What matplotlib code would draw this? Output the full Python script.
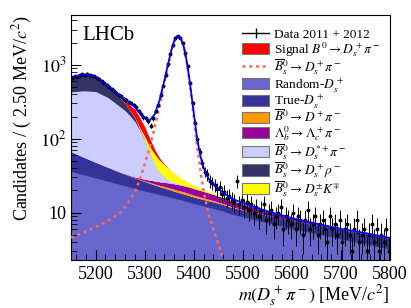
import numpy as np
import matplotlib
matplotlib.use("Agg")
import matplotlib.pyplot as plt
from matplotlib.patches import Patch
from matplotlib.lines import Line2D

plt.rcParams['font.family'] = 'serif'
plt.rcParams['font.serif'] = ['Liberation Serif', 'DejaVu Serif']
plt.rcParams['mathtext.fontset'] = 'stix'

# fit components (events per 2.5 MeV)
mass = [5150, 5175, 5200, 5225, 5250, 5260, 5270, 5280, 5290, 5300,
        5310, 5320, 5330, 5335, 5340, 5345, 5350, 5355, 5360, 5365,
        5370, 5375, 5380, 5385, 5390, 5395, 5400, 5405, 5410, 5415,
        5420, 5430, 5440, 5450, 5460, 5475, 5500, 5525, 5550, 5600,
        5650, 5700, 5750, 5800]

random_ds = [36, 32.5, 29.5, 26.5, 24, 23, 22.1, 21.2, 20.4, 19.6,
             18.9, 18.2, 17.5, 17.2, 16.9, 16.6, 16.3, 16.0, 15.7, 15.4,
             15.1, 14.8, 14.5, 14.2, 13.9, 13.6, 13.3, 13.0, 12.8, 12.5,
             12.3, 11.8, 11.4, 10.9, 10.5, 9.6, 8.8, 8.0, 7.3, 6.1,
             5.2, 4.4, 3.8, 3.2]
true_ds = [31, 24, 18.5, 14.5, 11, 10, 9, 8.2, 7.5, 6.8,
           6.2, 5.6, 5.1, 4.9, 4.7, 4.5, 4.3, 4.1, 3.9, 3.7,
           3.6, 3.5, 3.4, 3.3, 3.2, 3.1, 3.0, 2.95, 2.9, 2.85,
           2.8, 2.7, 2.6, 2.5, 2.4, 2.3, 2.1, 2.0, 1.9, 1.75,
           1.6, 1.5, 1.4, 1.3]
b0_dpi = [0, 0, 0, 0, 0, 0.05, 0.1, 0.2, 0.3, 0.5,
          0.6, 0.8, 0.9, 1.0, 1.0, 1.1, 1.1, 1.2, 1.2, 1.2,
          1.2, 1.2, 1.2, 1.2, 1.1, 1.1, 1.0, 1.0, 0.9, 0.9,
          0.8, 0.7, 0.6, 0.5, 0.4, 0.25, 0.1, 0.05, 0.02, 0,
          0, 0, 0, 0]
lb_lcpi = [0, 0, 0.1, 0.2, 0.4, 0.5, 0.7, 0.9, 1.2, 1.5,
           1.9, 2.3, 2.7, 2.9, 3.1, 3.3, 3.5, 3.6, 3.8, 3.9,
           4.0, 4.0, 4.0, 4.0, 4.0, 3.9, 3.9, 3.8, 3.7, 3.6,
           3.5, 3.3, 3.1, 2.9, 2.7, 2.4, 2.0, 1.6, 1.2, 0.6,
           0.3, 0.15, 0.1, 0.05]
bs_dsstpi = [363, 388, 387, 319, 235, 206, 173, 140, 101, 67,
             37, 18, 9, 6.5, 4.5, 3.2, 2.3, 1.7, 1.2, 0.9,
             0.7, 0.5, 0.4, 0.3, 0.25, 0.2, 0.15, 0.12, 0.1, 0.08,
             0.07, 0.05, 0.04, 0.03, 0.02, 0.02, 0.01, 0, 0, 0,
             0, 0, 0, 0]
bs_dsrho = [250, 290, 248, 149, 85, 60, 34, 21, 5, 2,
            1, 0.5, 0.3, 0.2, 0.15, 0.1, 0.08, 0.06, 0.05, 0.04,
            0.03, 0.03, 0.02, 0.02, 0.02, 0.01, 0.01, 0, 0, 0,
            0, 0, 0, 0, 0, 0, 0, 0, 0, 0,
            0, 0, 0, 0]
bs_dsk = [0, 0, 0, 0, 0.2, 0.5, 1, 2, 5, 10,
          14, 17, 16, 15, 14, 12.5, 11, 9.5, 8.2, 7,
          6, 5.2, 4.4, 3.7, 3.1, 2.6, 2.2, 1.9, 1.6, 1.35,
          1.15, 0.85, 0.6, 0.45, 0.33, 0.2, 0.08, 0.04, 0.02, 0,
          0, 0, 0, 0]
signal_b0 = [0, 0.05, 0.8, 3, 15, 28, 45, 58, 52, 38,
             22, 10, 4, 2.3, 1.2, 0.6, 0.3, 0.15, 0.08, 0.04,
             0.02, 0.01, 0, 0, 0, 0, 0, 0, 0, 0,
             0, 0, 0, 0, 0, 0, 0, 0, 0, 0,
             0, 0, 0, 0]
bs_dspi = [4.6, 5.4, 6.4, 7.8, 10, 12, 15, 19, 28, 45,
           75, 140, 270, 400, 560, 820, 1150, 1600, 2050, 2400,
           2400, 2150, 1700, 1150, 700, 380, 200, 100, 55, 32,
           20, 9.5, 6, 3.8, 2.3, 1.1, 0.35, 0.12, 0.05, 0.01,
           0.005, 0.003, 0.002, 0.001]

# data, 5 MeV steps starting at 5152.5
data_counts = [670, 705, 690, 720, 745, 730, 760, 735, 715, 700,
               670, 640, 600, 570, 540, 505, 470, 440, 415, 390,
               375, 350, 335, 310, 300, 285, 265, 240, 215, 195,
               188, 172, 150, 190, 235, 290, 385, 520, 720, 1010,
               1400, 1850, 2280, 2450, 2330, 1960, 1450, 950, 560, 305,
               165, 98, 66, 47, 36, 33, 27, 25, 24, 21,
               22, 18, 19, 16, 17, 15, 14, 27, 13, 15,
               12, 14, 11, 13, 10, 12, 9, 11, 13, 8,
               10, 11, 7, 9, 10, 12, 6, 9, 8, 7,
               10, 6, 9, 8, 5, 8, 11, 6, 7, 9,
               5, 7, 8, 6, 4, 9, 6, 7, 5, 8,
               4, 6, 7, 5, 3, 6, 8, 4, 5, 6,
               3, 5, 7, 4, 6, 3, 5, 4, 6, 3]
data_mass = np.arange(5152.5, 5800, 5.0)

stack = [
    (random_ds, '#6666cc', r'Random-$D_s^+$'),
    (true_ds, '#333399', r'True-$D_s^+$'),
    (b0_dpi, '#ff9900', r'$\overline{B}{}^0 \to D^+\pi^-$'),
    (lb_lcpi, '#990099', r'$\Lambda_b^0 \to \Lambda_c^+\pi^-$'),
    (bs_dsstpi, '#ccccff', r'$\overline{B}{}^0_s \to D_s^{*+}\pi^-$'),
    (bs_dsrho, '#333366', r'$\overline{B}{}^0_s \to D_s^+\rho^-$'),
    (bs_dsk, '#ffff00', r'$\overline{B}{}^0_s \to D_s^{\pm}K^{\mp}$'),
    (signal_b0, '#ff0000', r'Signal $B^0 \to D_s^+\pi^-$'),
]

x = np.array(mass, dtype=float)
ymin, ymax = 2.3, 4700

fig = plt.figure(figsize=(4.11, 3.08), dpi=100)
ax = fig.add_axes([0.173, 0.156, 0.776, 0.795])
ax.set_yscale('log')

lower = np.full(len(x), 1e-3)
for vals, col, lab in stack:
    upper = lower + np.array(vals, dtype=float)
    ax.fill_between(x, lower, upper, color=col, lw=0, zorder=1)
    lower = upper

total = lower + np.array(bs_dspi)
ax.plot(x, bs_dspi, color='#ff6666', ls=(0, (1.2, 1.5)), lw=1.8, zorder=3)

counts = np.array(data_counts, dtype=float)
ax.errorbar(data_mass, counts, yerr=np.sqrt(counts), fmt='o', ms=1.8,
            color='black', ecolor='black', elinewidth=0.7, capsize=0, zorder=4)
ax.plot(x, total, color='#0000ff', lw=1.3, zorder=5)

ax.set_xlim(5150, 5800)
ax.set_ylim(ymin, ymax)
ax.set_xticks([5200, 5300, 5400, 5500, 5600, 5700, 5800])
ax.set_xticks(np.arange(5160, 5800, 20), minor=True)
ax.set_yticks([10, 100, 1000])
ax.set_yticklabels(['10', '$10^{2}$', '$10^{3}$'])
ax.tick_params(axis='both', which='both', direction='in', labelsize=13,
               top=False, right=False)
ax.tick_params(axis='both', which='major', length=7, width=0.8)
ax.tick_params(axis='both', which='minor', length=4, width=0.6)
ax.tick_params(axis='x', pad=4)

ax.set_xlabel(r'$m(D_s^+\pi^-)$ [MeV/$c^2$]', fontsize=13, ha='right')
ax.xaxis.set_label_coords(1.0, -0.095)
ax.set_ylabel(r'Candidates / ( 2.50 MeV/$c^2$)', fontsize=13, loc='top', labelpad=4)

ax.text(0.035, 0.955, 'LHCb', transform=ax.transAxes, fontsize=15,
        va='top', ha='left')

handles = [
    Line2D([0], [0], color='black', lw=1, marker='|', ms=7, mew=1),
    Patch(facecolor='#ff0000', edgecolor='#777777', lw=0.8),
    Line2D([0], [0], color='#ff6666', ls=(0, (1.2, 1.5)), lw=1.8),
]
labels = ['Data 2011 + 2012', r'Signal $B^0 \to D_s^+\pi^-$',
          r'$\overline{B}{}^0_s \to D_s^+\pi^-$']
for vals, col, lab in stack[:7]:
    handles.append(Patch(facecolor=col, edgecolor='#777777', lw=0.8))
    labels.append(lab)

ax.legend(handles, labels, loc='upper right', bbox_to_anchor=(1.0, 0.985),
          frameon=False, fontsize=9.6, handlelength=2.0, handleheight=0.9,
          handletextpad=0.4, labelspacing=-0.1, borderpad=0.2)

fig.savefig('out.png', dpi=100)
